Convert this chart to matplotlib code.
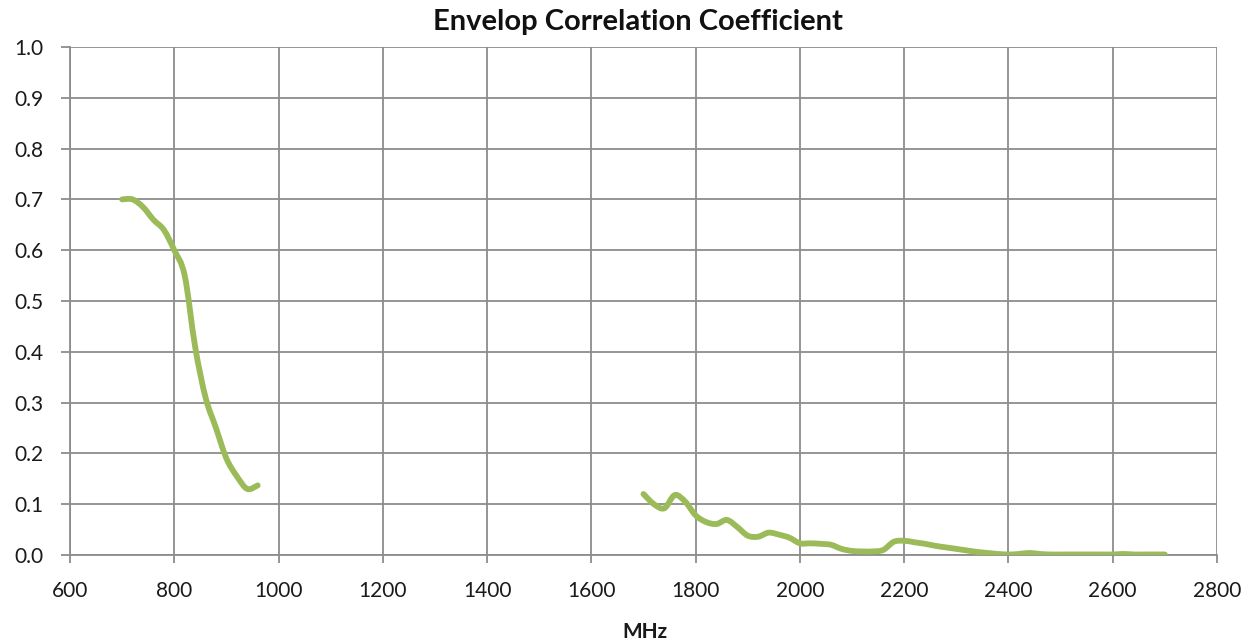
import matplotlib
matplotlib.use("Agg")
import matplotlib.pyplot as plt
from matplotlib.path import Path
from matplotlib.patches import PathPatch

plt.rcParams['font.family'] = ['Lato', 'DejaVu Sans']

freq_low = [700, 720, 740, 760, 780, 800, 820, 840, 860, 880, 900, 920, 940, 960]
ecc_low = [0.70, 0.70, 0.685, 0.66, 0.64, 0.60, 0.55, 0.41, 0.31, 0.25, 0.19, 0.155, 0.13, 0.137]

freq_high = [1700, 1720, 1740, 1760, 1780, 1800, 1820, 1840, 1860, 1880, 1900, 1920, 1940,
             1960, 1980, 2000, 2020, 2040, 2060, 2080, 2100, 2120, 2140, 2160, 2180, 2200,
             2220, 2240, 2260, 2280, 2300, 2320, 2340, 2360, 2380, 2400, 2420, 2440, 2460,
             2480, 2500, 2520, 2540, 2560, 2580, 2600, 2620, 2640, 2660, 2680, 2700]
ecc_high = [0.12, 0.10, 0.092, 0.118, 0.105, 0.078, 0.065, 0.061, 0.069, 0.055, 0.038, 0.036, 0.044,
            0.040, 0.034, 0.023, 0.023, 0.022, 0.020, 0.012, 0.008, 0.007, 0.007, 0.010, 0.026, 0.028,
            0.025, 0.022, 0.018, 0.015, 0.012, 0.009, 0.006, 0.004, 0.002, 0.001, 0.002, 0.004, 0.002,
            0.001, 0.001, 0.001, 0.001, 0.001, 0.001, 0.001, 0.002, 0.001, 0.001, 0.001, 0.001]

xticks = [600, 800, 1000, 1200, 1400, 1600, 1800, 2000, 2200, 2400, 2600, 2800]
yticks = [0.0, 0.1, 0.2, 0.3, 0.4, 0.5, 0.6, 0.7, 0.8, 0.9, 1.0]


def smooth_path(xs, ys):
    """Excel-like smoothed line: Catmull-Rom segments as cubic Beziers through the data."""
    pts = list(zip(xs, ys))
    n = len(pts)
    verts = [pts[0]]
    codes = [Path.MOVETO]
    for i in range(n - 1):
        p0 = pts[i - 1] if i > 0 else pts[i]
        p1 = pts[i]
        p2 = pts[i + 1]
        p3 = pts[i + 2] if i + 2 < n else pts[i + 1]
        c1 = (p1[0] + (p2[0] - p0[0]) / 6.0, p1[1] + (p2[1] - p0[1]) / 6.0)
        c2 = (p2[0] - (p3[0] - p1[0]) / 6.0, p2[1] - (p3[1] - p1[1]) / 6.0)
        verts += [c1, c2, p2]
        codes += [Path.CURVE4] * 3
    return Path(verts, codes)


fig = plt.figure(figsize=(12.57, 6.44), dpi=100)
ax = fig.add_axes([70/1257, 89/644, 1147/1257, 508/644])

color = '#9BBB59'
for xs, ys in [(freq_low, ecc_low), (freq_high, ecc_high)]:
    patch = PathPatch(smooth_path(xs, ys), facecolor='none', edgecolor=color, lw=4.2,
                      joinstyle='round', capstyle='round', zorder=3, transform=ax.transData)
    ax.add_patch(patch)

ax.set_xlim(600, 2800)
ax.set_ylim(0, 1.0)
ax.set_xticks(xticks)
ax.set_yticks(yticks)
ax.set_xticklabels([str(v) for v in xticks])
ax.set_yticklabels([f"{v:.1f}" for v in yticks])
ax.grid(True, color='#8c8c8c', lw=1.3)
ax.set_axisbelow(True)
for s in ['top', 'right']:
    ax.spines[s].set_visible(False)
for s in ['left', 'bottom']:
    ax.spines[s].set_color('#8c8c8c')
    ax.spines[s].set_linewidth(1.3)
ax.tick_params(axis='x', direction='out', length=6, width=1.3, color='#8c8c8c',
               labelsize=15, pad=13, labelcolor='#1a1a1a')
ax.tick_params(axis='y', direction='out', length=6.5, width=1.3, color='#8c8c8c',
               labelsize=15, pad=12.5, labelcolor='#1a1a1a')

fig.text(638/1257, 1 - 22/644, 'Envelop Correlation Coefficient', ha='center', va='center',
         fontsize=21, fontweight='bold', color='#111111')
fig.text(645/1257, 1 - 632/644, 'MHz', ha='center', va='center',
         fontsize=15, fontweight='bold', color='#1a1a1a')

fig.savefig('out.png', dpi=100)
